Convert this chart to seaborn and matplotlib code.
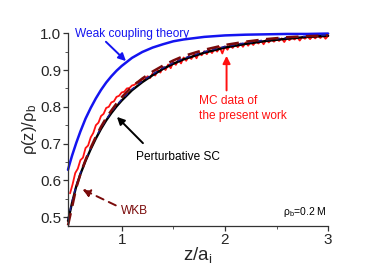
import pandas as pd
import numpy as np
import seaborn as sns
import matplotlib.pyplot as plt
from matplotlib.ticker import FixedLocator, MultipleLocator

# curves
x_theory = [0.48, 0.50, 0.52, 0.56, 0.60, 0.65, 0.70, 0.75, 0.80, 0.85, 0.90, 0.95, 1.0,
            1.1, 1.2, 1.3, 1.4, 1.5, 1.6, 1.8, 2.0, 2.2, 2.4, 2.6, 2.8, 3.0]
weak = [0.629, 0.649, 0.668, 0.702, 0.733, 0.768, 0.797, 0.823, 0.846, 0.866, 0.883, 0.898, 0.911,
        0.933, 0.949, 0.961, 0.970, 0.978, 0.983, 0.990, 0.994, 0.996, 0.997, 0.998, 0.998, 0.999]
pert_sc = [0.490, 0.515, 0.540, 0.584, 0.617, 0.653, 0.685, 0.714, 0.740, 0.763, 0.783, 0.801, 0.817,
           0.845, 0.867, 0.886, 0.903, 0.917, 0.929, 0.947, 0.961, 0.971, 0.979, 0.985, 0.990, 0.993]
pert_dash = [0.493, 0.518, 0.543, 0.587, 0.620, 0.656, 0.688, 0.717, 0.743, 0.766, 0.786, 0.804, 0.820,
             0.848, 0.870, 0.889, 0.906, 0.920, 0.932, 0.950, 0.964, 0.974, 0.982, 0.988, 0.992, 0.995]
wkb = [0.478, 0.503, 0.528, 0.580, 0.617, 0.656, 0.689, 0.719, 0.746, 0.770, 0.790, 0.809, 0.826,
       0.855, 0.877, 0.896, 0.912, 0.926, 0.938, 0.955, 0.968, 0.977, 0.984, 0.989, 0.992, 0.994]

x_mc = [round(0.5 + 0.025 * i, 3) for i in range(101)]
mc = [0.565, 0.590, 0.620, 0.632, 0.655, 0.662, 0.688, 0.695, 0.717, 0.729,
      0.750, 0.757, 0.775, 0.781, 0.797, 0.800, 0.812, 0.815, 0.827, 0.830,
      0.839, 0.841, 0.850, 0.851, 0.858, 0.860, 0.867, 0.866, 0.876, 0.874,
      0.883, 0.878, 0.891, 0.885, 0.899, 0.893, 0.908, 0.900, 0.915, 0.905,
      0.922, 0.914, 0.928, 0.918, 0.934, 0.925, 0.938, 0.930, 0.943, 0.932,
      0.947, 0.940, 0.951, 0.943, 0.955, 0.946, 0.958, 0.950, 0.962, 0.945,
      0.964, 0.955, 0.967, 0.960, 0.969, 0.962, 0.972, 0.963, 0.975, 0.966,
      0.976, 0.968, 0.978, 0.972, 0.980, 0.970, 0.982, 0.975, 0.983, 0.977,
      0.984, 0.979, 0.986, 0.976, 0.987, 0.981, 0.988, 0.983, 0.989, 0.980,
      0.990, 0.985, 0.991, 0.984, 0.992, 0.986, 0.993, 0.987, 0.994, 0.985,
      0.993]

df_th = pd.DataFrame({"x": x_theory, "weak": weak, "sc": pert_sc, "scd": pert_dash, "wkb": wkb})
df_mc = pd.DataFrame({"x": x_mc, "mc": mc})

sns.set_theme(style="ticks")
plt.rcParams["font.family"] = ["Liberation Sans", "DejaVu Sans"]
plt.rcParams["mathtext.fontset"] = "custom"
plt.rcParams["mathtext.rm"] = "Liberation Sans"
plt.rcParams["mathtext.it"] = "Liberation Sans:italic"

fig = plt.figure(figsize=(3.82, 2.70), dpi=100)
ax = fig.add_axes([0.178, 0.164, 0.681, 0.713])

sns.lineplot(data=df_mc, x="x", y="mc", ax=ax, color="#ff1010", lw=1.3, clip_on=False)
sns.lineplot(data=df_th, x="x", y="weak", ax=ax, color="#1414f0", lw=1.8, clip_on=False)
sns.lineplot(data=df_th, x="x", y="sc", ax=ax, color="black", lw=1.7, clip_on=False)
sns.lineplot(data=df_th, x="x", y="scd", ax=ax, color="#1a1a8c", lw=1.1,
             linestyle=(0, (3, 3)), clip_on=False)
sns.lineplot(data=df_th, x="x", y="wkb", ax=ax, color="#7a0a0a", lw=1.8,
             linestyle=(0, (5, 3)), clip_on=False)

ax.set_xlim(0.48, 3.0)
ax.set_ylim(0.477, 1.0)
ax.xaxis.set_major_locator(FixedLocator([1, 2, 3]))
ax.xaxis.set_minor_locator(FixedLocator([1.5, 2.5]))
ax.yaxis.set_major_locator(FixedLocator([0.5, 0.6, 0.7, 0.8, 0.9, 1.0]))
ax.yaxis.set_minor_locator(MultipleLocator(0.05))
ax.set_yticklabels(["0.5", "0.6", "0.7", "0.8", "0.9", "1.0"])
ax.tick_params(which="major", length=3.5, width=0.9, labelsize=11, pad=1.5, color="#333333")
ax.tick_params(which="minor", length=2, width=0.7, color="#555555")
sns.despine(ax=ax)
for s in ["left", "bottom"]:
    ax.spines[s].set_linewidth(0.9)
    ax.spines[s].set_color("#333333")

ax.set_xlabel("z/a$_\\mathrm{i}$", fontsize=13.5, labelpad=-1)
ax.set_ylabel("ρ(z)/ρ$_\\mathrm{b}$", fontsize=12, labelpad=1)

fs = 8.6
ax.text(0.548, 0.998, "Weak coupling theory", color="#1414f0", fontsize=fs, va="center")
ax.annotate("", xy=(1.061, 0.919), xytext=(0.828, 0.982),
            arrowprops=dict(arrowstyle="-|>", color="#1414f0", lw=1.4, mutation_scale=11))
ax.text(1.748, 0.796, "MC data of\nthe present work", color="#ff1010", fontsize=fs,
        va="center", linespacing=1.35)
ax.annotate("", xy=(2.016, 0.946), xytext=(2.016, 0.837),
            arrowprops=dict(arrowstyle="-|>", color="#ff1010", lw=1.4, mutation_scale=11))
ax.text(1.138, 0.663, "Perturbative SC", color="black", fontsize=fs, va="center")
ax.annotate("", xy=(0.935, 0.778), xytext=(1.225, 0.696),
            arrowprops=dict(arrowstyle="-|>", color="black", lw=1.4, mutation_scale=11))
ax.text(0.990, 0.518, "WKB", color="#7a0a0a", fontsize=fs, va="center")
ax.annotate("", xy=(0.596, 0.579), xytext=(0.967, 0.529),
            arrowprops=dict(arrowstyle="-|>", color="#7a0a0a", lw=1.4, mutation_scale=11,
                            linestyle=(0, (4, 3))))
ax.text(2.987, 0.515, "ρ$_\\mathrm{b}$=0.2 M", color="black", fontsize=7.5,
        va="center", ha="right")

fig.savefig("out.png", dpi=100)
